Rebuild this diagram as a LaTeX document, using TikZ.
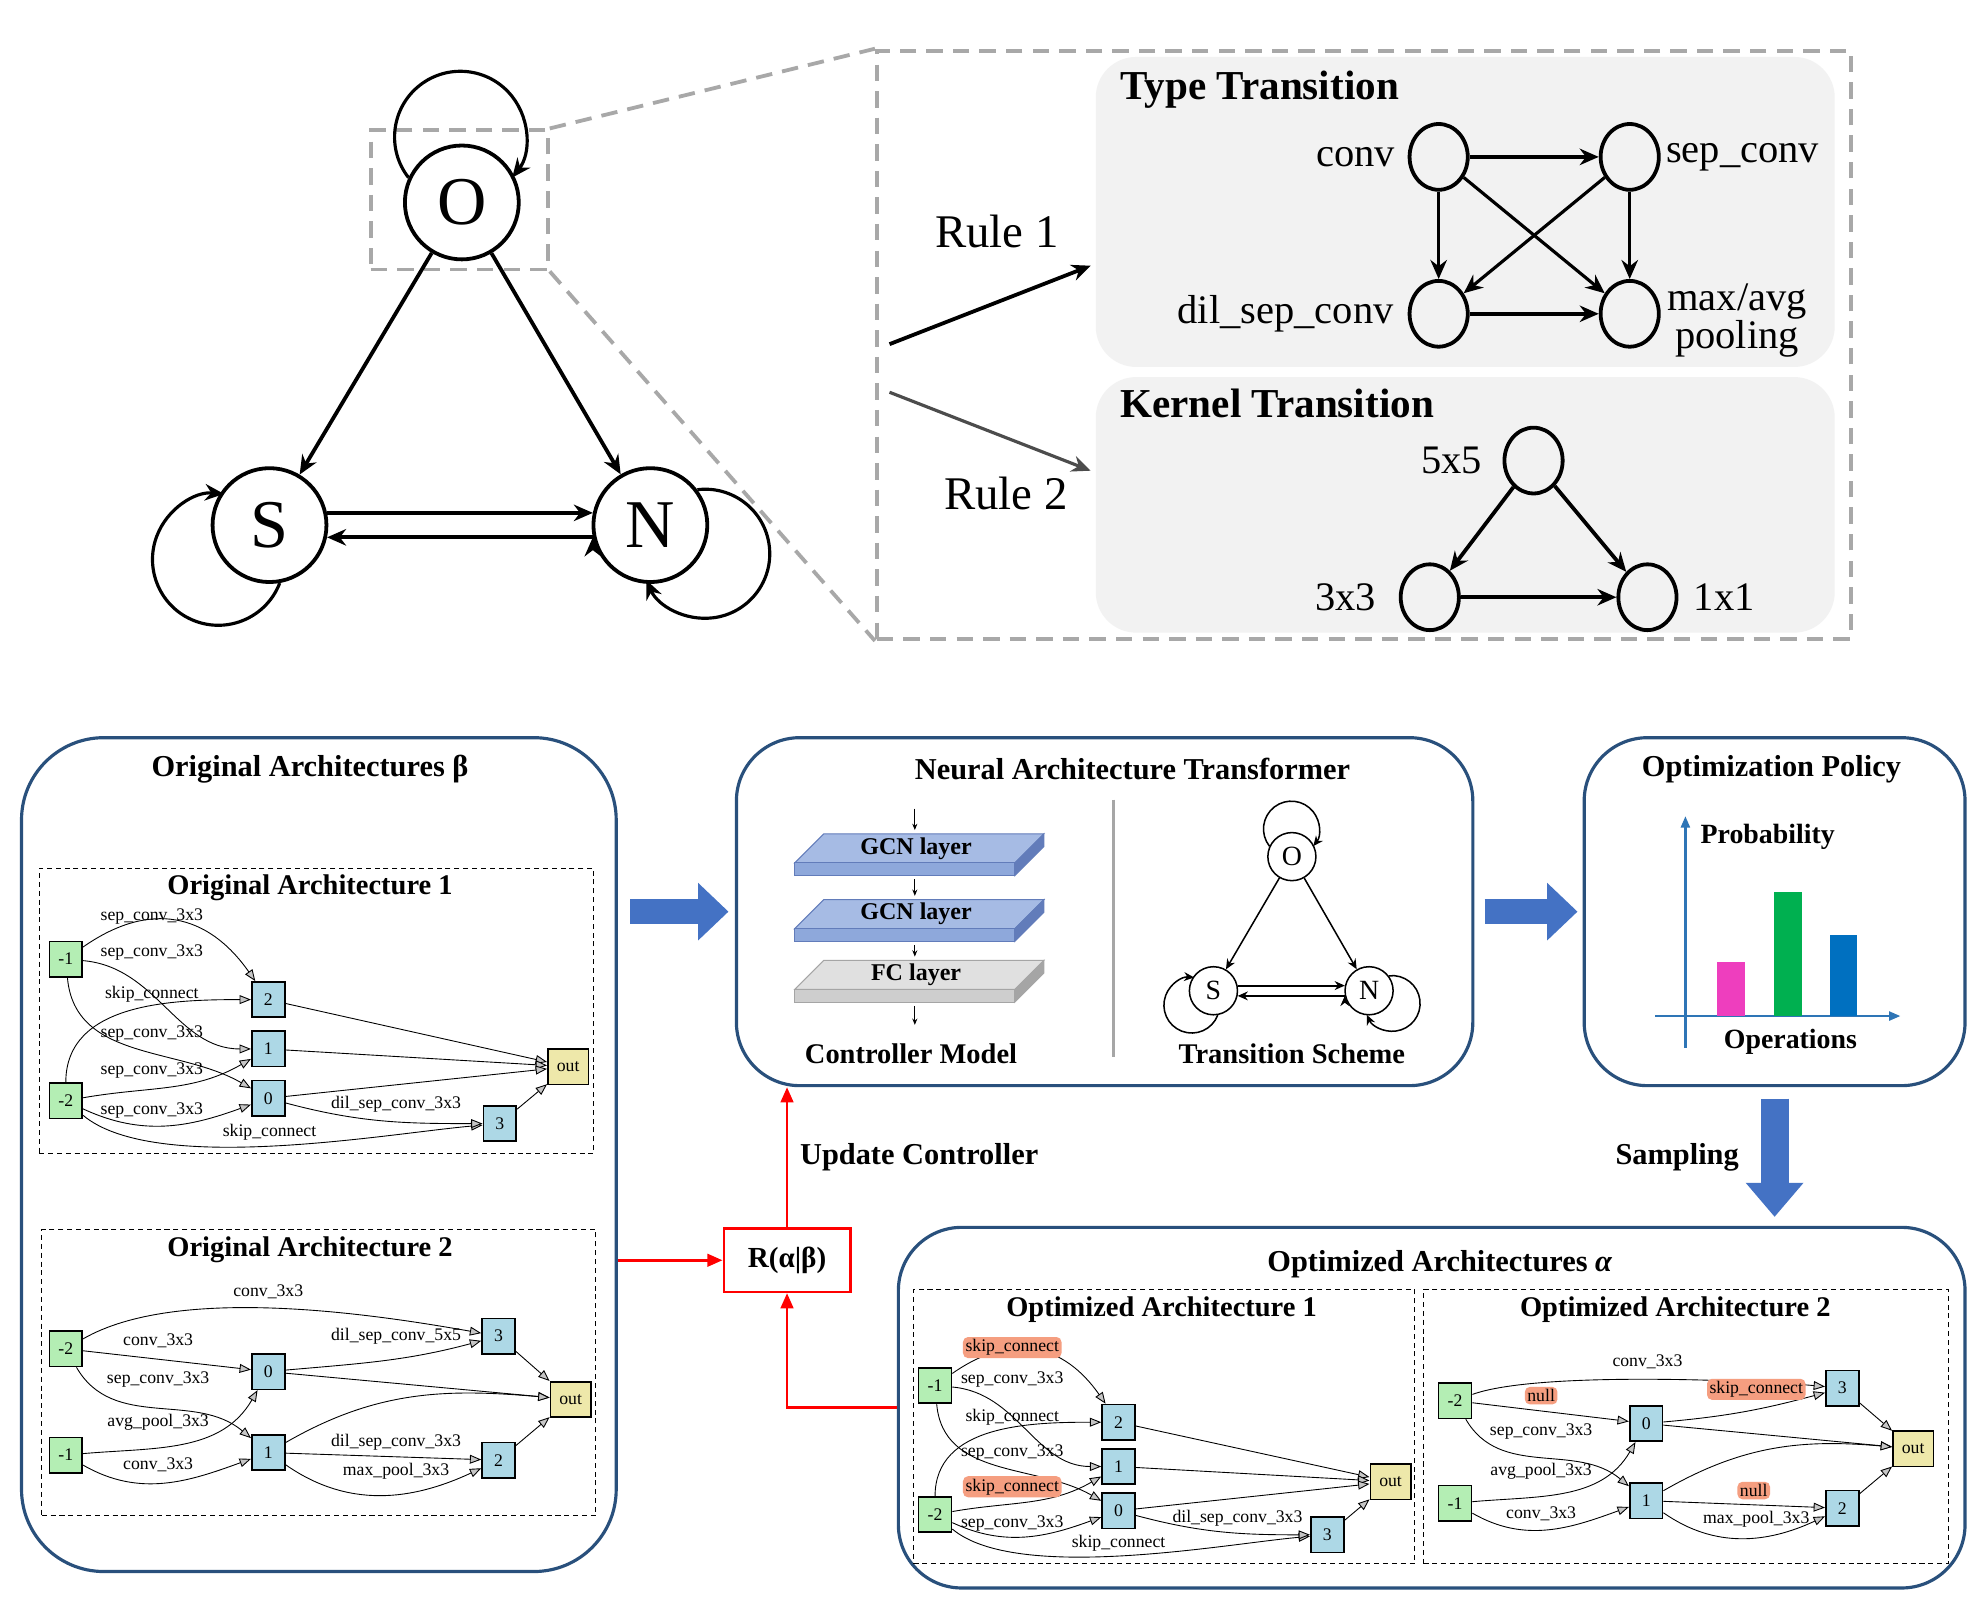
\documentclass[tikz,border=0pt]{standalone}
\usepackage{fontspec}
\setmainfont{Liberation Serif}
\usetikzlibrary{automata, positioning, arrows.meta, shapes.geometric, calc}

\definecolor{boxblue}{RGB}{41,80,124}
\definecolor{fatblue}{RGB}{68,114,196}
\definecolor{zoomgray}{RGB}{168,168,168}
\definecolor{panelgray}{RGB}{242,242,242}
\definecolor{inputgreen}{RGB}{180,238,180}
\definecolor{cellblue}{RGB}{173,216,230}
\definecolor{outyellow}{RGB}{238,232,170}
\definecolor{hlsalmon}{RGB}{245,158,128}
\definecolor{axisblue}{RGB}{46,117,182}
\definecolor{barpink}{RGB}{238,62,190}
\definecolor{bargreen}{RGB}{0,176,80}
\definecolor{barblue}{RGB}{0,112,192}
\definecolor{gcntop}{RGB}{166,187,228}
\definecolor{gcnfront}{RGB}{142,168,219}
\definecolor{gcnside}{RGB}{98,124,186}
\definecolor{fctop}{RGB}{224,224,224}
\definecolor{fcfront}{RGB}{206,206,206}
\definecolor{fcside}{RGB}{165,165,165}

\tikzset{%
  x=1pt, y=-1pt, % one unit is one pixel of the sketch, y grows downwards
  every state/.style={line width=3pt, minimum size=90pt, inner sep=0pt, font=\fontsize{54}{54}\selectfont},
  small state/.style={circle, draw, line width=1.2pt, minimum size=38pt, inner sep=0pt, font=\fontsize{22}{22}\selectfont},
  fat/.style={line width=3pt, -{Stealth[length=15pt,width=13pt]}},
  slim/.style={line width=1.2pt, -{Stealth[length=8pt,width=7pt]}},
  zoombox/.style={draw=zoomgray, line width=3pt, dash pattern=on 13pt off 8pt},
  panel/.style={fill=panelgray, rounded corners=32pt},
  ptitle/.style={anchor=west, font=\fontsize{32.5}{34}\selectfont\bfseries},
  op/.style={ellipse, draw, line width=3pt, minimum width=46pt, minimum height=52pt, inner sep=0pt},
  oplabel/.style={font=\fontsize{32}{28}\selectfont, inner sep=2pt},
  rulelbl/.style={font=\fontsize{37}{37}\selectfont},
  bigbox/.style={draw=boxblue, line width=2.5pt, rounded corners=50pt},
  boxtitle/.style={font=\fontsize{24}{26}\selectfont\bfseries},
  celltitle/.style={font=\fontsize{22.5}{24}\selectfont\bfseries},
  cellframe/.style={draw, line width=0.8pt, dash pattern=on 4pt off 3pt},
  inbox/.style={draw, line width=1.3pt, fill=inputgreen, minimum width=26pt, minimum height=28pt, inner sep=0pt, font=\fontsize{14}{14}\selectfont},
  midbox/.style={inbox, fill=cellblue},
  outbox/.style={inbox, fill=outyellow, minimum width=32pt},
  cedge/.style={line width=0.7pt, -{Triangle[length=9pt,width=7pt,fill=gray!45]}},
  elbl/.style={font=\fontsize{14}{15}\selectfont, inner sep=1pt},
  hl/.style={elbl, fill=hlsalmon, rounded corners=4pt, inner sep=2pt},
  blockarrow/.style={draw=fatblue, line width=20pt, -{Triangle[length=24pt,width=44pt]}},
  redarrow/.style={red, line width=2pt, -{Triangle[length=12pt,width=10pt]}},
  rbox/.style={draw=red, line width=2pt, minimum width=100pt, minimum height=50pt, font=\fontsize{23}{25}\selectfont\bfseries},
  layertext/.style={font=\fontsize{19}{19}\selectfont\bfseries},
  smallarrow/.style={line width=0.8pt, -{Stealth[length=5pt,width=4pt]}},
  axisline/.style={draw=axisblue, line width=2pt, -{Triangle[length=9pt,width=7pt]}},
  axlabel/.style={font=\fontsize{22}{24}\selectfont\bfseries}
}

\begin{document}
\begin{tikzpicture}
  \path[fill=white, use as bounding box] (0,0) rectangle (1568,1263);

  % ---- transition graph and zoom ----
  \node[zoombox, minimum width=140pt, minimum height=110pt] (zO) at (363,158) {};
  \node[zoombox, minimum width=770pt, minimum height=465pt] (zoom) at (1078,272.5) {};
  \draw[zoombox] (zO.north east) -- (zoom.north west) (zO.south east) -- (zoom.south west);

  \node[state] (O) at (365,160) {O};
  \node[state] (S) at (213,415) {S};
  \node[state] (N) at (514,415) {N};
  \draw[fat] (O) edge (S) (O) edge (N) (S.12) edge (N.168) (N.192) edge (S.-12);
  \draw[fat, line width=2.5pt] (O.155.7) arc[start angle=218, end angle=-38, radius=52pt];
  \draw[fat, line width=2.5pt] (S.-80) arc[start angle=-21, end angle=-275, radius=52pt];
  \draw[fat, line width=2.5pt] (N.37) arc[start angle=97, end angle=-156, radius=51pt];

  % ---- rules ----
  \node[panel, minimum width=584pt, minimum height=245pt] (type) at (1158,167.5) {};
  \node[panel, minimum width=584pt, minimum height=202pt] (kernel) at (1158,399) {};
  \node[ptitle] (typeT) at (882,71) {Type Transition};
  \node[ptitle] (kernelT) at (882,319) {Kernel Transition};

  \coordinate (r1) at (703,272);
  \coordinate (r1e) at (862,210);
  \coordinate (r2) at (703,310);
  \coordinate (r2e) at (862,372);
  \draw[fat] (r1) -- (r1e);
  \draw[fat, line width=2.5pt, black!70] (r2) -- (r2e);
  \node[rulelbl] (rule1) at (788,183) {Rule 1};
  \node[rulelbl] (rule2) at (795,390) {Rule 2};

  \node[op] (conv) at (1137,124) {};
  \node[op] (sep) at (1288,124) {};
  \node[op] (dil) at (1137,248) {};
  \node[op] (pool) at (1288,248) {};
  \node[oplabel, left=8pt of conv] (convL) {conv};
  \node[oplabel, right=2pt of sep] (sepL) {sep\_conv};
  \node[oplabel, left=9pt of dil] (dilL) {dil\_sep\_conv};
  \node[oplabel, right=3pt of pool, yshift=-5pt, align=center] (poolL) {max/avg\\pooling};
  \draw[fat, line width=3.5pt] (conv) edge (sep) (dil) edge (pool);
  \draw[fat, line width=2.5pt] (conv) edge (dil) (conv) edge (pool) (sep) edge (dil) (sep) edge (pool);

  \node[op] (k5) at (1212,364) {};
  \node[op] (k3) at (1130,472) {};
  \node[op] (k1) at (1302,472) {};
  \node[oplabel, left=14pt of k5] (k5L) {5x5};
  \node[oplabel, left=16pt of k3] (k3L) {3x3};
  \node[oplabel, right=10pt of k1] (k1L) {1x1};
  \draw[fat] (k5) edge (k3) (k5) edge (k1) (k3) edge (k1);

  % ---- pipeline boxes ----
  \node[bigbox, minimum width=470pt, minimum height=659pt, rounded corners=65pt] (orig) at (252,912.5) {};
  \node[bigbox, minimum width=582pt, minimum height=275pt] (nat) at (873,720.5) {};
  \node[bigbox, minimum width=301pt, minimum height=275pt] (pol) at (1402.5,720.5) {};
  \node[bigbox, minimum width=843pt, minimum height=285pt] (opt) at (1131.5,1112.5) {};
  \node[boxtitle] (origT) at (245,608) {Original Architectures β};
  \node[boxtitle] (natT) at (895,608) {Neural Architecture Transformer};
  \node[boxtitle] (polT) at (1400,608) {Optimization Policy};
  \node[boxtitle] (optT) at (1138,999) {Optimized Architectures \textit{α}};

  \draw[blockarrow] ($(orig.east |- nat.west)+(10,0)$) -- ($(nat.west)+(-5,0)$);
  \draw[blockarrow] ($(nat.east)+(8,0)$) -- ($(pol.west)+(-4,0)$);
  \draw[blockarrow, line width=22pt, -{Triangle[length=27pt,width=44pt]}] ($(pol.south)+(0,9)$) -- ($(pol.south |- opt.north)+(0,-7)$)
    node[midway, left=14pt, boxtitle] (samp) {Sampling};

  \node[rbox] (R) at (622,996) {R(α|β)};
  \draw[redarrow] (orig.east |- R) -- (R);
  \draw[redarrow] (R) -- (R |- nat.south) node[midway, right=6pt, boxtitle, text=black] (upd) {Update Controller};
  \draw[redarrow] (opt.west) -| (R);

  % ---- controller model ----
  \coordinate (ctrlin) at (723,639);
  \coordinate (ctrlout) at (723,810);
  \foreach \y/\txt/\tc/\fc/\sc [count=\i] in {659/GCN layer/gcntop/gcnfront/gcnside,
                                               711/GCN layer/gcntop/gcnfront/gcnside,
                                               759/FC layer/fctop/fcfront/fcside}{
    \filldraw[fill=\tc, draw=\sc, line width=0.8pt] (651,\y) -- (825,\y) -- (802,\y+23) -- (628,\y+23) -- cycle;
    \filldraw[fill=\fc, draw=\sc, line width=0.8pt] (628,\y+23) rectangle (802,\y+33);
    \filldraw[fill=\sc, draw=\sc, line width=0.8pt] (802,\y+23) -- (825,\y) -- (825,\y+10) -- (802,\y+33) -- cycle;
    \node[layertext] (layer\i) at (724,\y+11.5) {\txt};
    \coordinate (lt\i) at (723,\y-3);
    \coordinate (lb\i) at (723,\y+36);
  }
  \draw[smallarrow] (ctrlin) -- (lt1);
  \draw[smallarrow] (lb1) -- (lt2);
  \draw[smallarrow] (lb2) -- (lt3);
  \draw[smallarrow] (lb3) -- (ctrlout);
  \node[celltitle] (ctrlT) at (720,833) {Controller Model};

  \coordinate (divtop) at (880,632);
  \coordinate (divbot) at (880,835);
  \draw[gray!70, line width=2pt] (divtop) -- (divbot);

  % ---- transition scheme ----
  \node[small state] (so) at (1021,677) {O};
  \node[small state] (ss) at (959,783) {S};
  \node[small state] (sn) at (1082,783) {N};
  \draw[slim] (so) edge (ss) (so) edge (sn);
  \draw[slim, line width=1.6pt] (ss.12) edge (sn.168) (sn.192) edge (ss.-12);
  \draw[slim] (so.155.7) arc[start angle=218, end angle=-38, radius=22pt];
  \draw[slim] (ss.-80) arc[start angle=-21, end angle=-275, radius=22pt];
  \draw[slim] (sn.37) arc[start angle=97, end angle=-156, radius=22pt];
  \node[celltitle] (schemeT) at (1021,833) {Transition Scheme};

  % ---- optimization policy ----
  \coordinate (yb) at (1332,828);
  \coordinate (yt) at (1332,645);
  \coordinate (xl) at (1308,803);
  \coordinate (xr) at (1502,803);
  \draw[axisline] (yb) -- (yt);
  \draw[axisline] (xl) -- (xr);
  \fill[barpink] (1357,760) rectangle (1379,803);
  \fill[bargreen] (1402,705) rectangle (1424,803);
  \fill[barblue] (1446,739) rectangle (1468,803);
  \node[axlabel] (prob) at (1397,661) {Probability};
  \node[axlabel] (opsL) at (1415,823) {Operations};

  % ---- original architecture 1 ----
  \node[cellframe, minimum width=438pt, minimum height=226pt] (o1) at (250,799) {};
  \node[celltitle] (o1T) at (245,702) {Original Architecture 1};
  \node[inbox] (o1m1) at (52,758) {-1};
  \node[inbox] (o1m2) at (52,870) {-2};
  \node[midbox] (o1n2) at (212,790) {2};
  \node[midbox] (o1n1) at (212,829) {1};
  \node[midbox] (o1n0) at (212,868) {0};
  \node[midbox] (o1n3) at (395,888) {3};
  \node[outbox] (o1out) at (449,843) {out};
  \draw[cedge] (o1m1) edge[out=35, in=125, looseness=1.2] (o1n2)
               (o1m1) edge[out=-5, in=180] (o1n1)
               (o1m1) edge[out=-85, in=150] (o1n0)
               (o1m2) edge[out=90, in=180] (o1n2)
               (o1m2) edge[out=10, in=210] (o1n1)
               (o1m2) edge[out=-25, in=200] (o1n0)
               (o1m2) edge[out=-40, in=185, looseness=0.6] (o1n3)
               (o1n0) edge[out=-15, in=180] (o1n3)
               (o1n2) edge (o1out) (o1n1) edge (o1out) (o1n0) edge (o1out) (o1n3) edge (o1out);
  \node[elbl] (o1e1) at (120,724) {sep\_conv\_3x3};
  \node[elbl] (o1e2) at (120,753) {sep\_conv\_3x3};
  \node[elbl] (o1e3) at (120,786) {skip\_connect};
  \node[elbl] (o1e4) at (120,817) {sep\_conv\_3x3};
  \node[elbl] (o1e5) at (120,846) {sep\_conv\_3x3};
  \node[elbl] (o1e6) at (120,878) {sep\_conv\_3x3};
  \node[elbl] (o1e7) at (213,895) {skip\_connect};
  \node[elbl] (o1e8) at (313,873) {dil\_sep\_conv\_3x3};

  % ---- original architecture 2 ----
  \node[cellframe, minimum width=438pt, minimum height=226pt] (o2) at (252,1085) {};
  \node[celltitle] (o2T) at (245,988) {Original Architecture 2};
  \node[inbox] (o2m2) at (52,1066) {-2};
  \node[inbox] (o2m1) at (52,1150) {-1};
  \node[midbox] (o2n0) at (212,1084) {0};
  \node[midbox] (o2n1) at (212,1148) {1};
  \node[midbox] (o2n3) at (394,1056) {3};
  \node[midbox] (o2n2) at (394,1154) {2};
  \node[outbox] (o2out) at (451,1106) {out};
  \draw[cedge] (o2m2) edge[out=30, in=170, looseness=0.7] (o2n3)
               (o2m2) edge (o2n0)
               (o2m2) edge[out=-60, in=140] (o2n1)
               (o2m1) edge[out=5, in=-120] (o2n0)
               (o2m1) edge[out=-30, in=200] (o2n1)
               (o2n0) edge[out=5, in=195] (o2n3)
               (o2n0) edge (o2out)
               (o2n1) edge[out=30, in=175] (o2out)
               (o2n1) edge (o2n2)
               (o2n1) edge[out=-35, in=205] (o2n2)
               (o2n3) edge (o2out) (o2n2) edge (o2out);
  \node[elbl] (o2e1) at (212,1021) {conv\_3x3};
  \node[elbl] (o2e2) at (125,1060) {conv\_3x3};
  \node[elbl] (o2e3) at (125,1090) {sep\_conv\_3x3};
  \node[elbl] (o2e4) at (125,1124) {avg\_pool\_3x3};
  \node[elbl] (o2e5) at (125,1158) {conv\_3x3};
  \node[elbl] (o2e6) at (313,1056) {dil\_sep\_conv\_5x5};
  \node[elbl] (o2e7) at (313,1140) {dil\_sep\_conv\_3x3};
  \node[elbl] (o2e8) at (313,1163) {max\_pool\_3x3};

  % ---- optimized architecture 1 ----
  \node[cellframe, minimum width=396pt, minimum height=217pt] (p1) at (920,1127.5) {};
  \node[celltitle] (p1T) at (918,1035) {Optimized Architecture 1};
  \node[inbox] (p1m1) at (739,1095) {-1};
  \node[inbox] (p1m2) at (739,1197) {-2};
  \node[midbox] (p1n2) at (884,1124) {2};
  \node[midbox] (p1n1) at (884,1159) {1};
  \node[midbox] (p1n0) at (884,1194) {0};
  \node[midbox] (p1n3) at (1049,1213) {3};
  \node[outbox] (p1out) at (1099,1171) {out};
  \draw[cedge] (p1m1) edge[out=35, in=125, looseness=1.2] (p1n2)
               (p1m1) edge[out=-5, in=180] (p1n1)
               (p1m1) edge[out=-85, in=150] (p1n0)
               (p1m2) edge[out=90, in=180] (p1n2)
               (p1m2) edge[out=10, in=210] (p1n1)
               (p1m2) edge[out=-25, in=200] (p1n0)
               (p1m2) edge[out=-40, in=185, looseness=0.6] (p1n3)
               (p1n0) edge[out=-15, in=180] (p1n3)
               (p1n2) edge (p1out) (p1n1) edge (p1out) (p1n0) edge (p1out) (p1n3) edge (p1out);
  \node[hl] (p1e1) at (800,1065) {skip\_connect};
  \node[elbl] (p1e2) at (800,1090) {sep\_conv\_3x3};
  \node[elbl] (p1e3) at (800,1120) {skip\_connect};
  \node[elbl] (p1e4) at (800,1148) {sep\_conv\_3x3};
  \node[hl] (p1e5) at (800,1175) {skip\_connect};
  \node[elbl] (p1e6) at (800,1204) {sep\_conv\_3x3};
  \node[elbl] (p1e7) at (884,1220) {skip\_connect};
  \node[elbl] (p1e8) at (978,1200) {dil\_sep\_conv\_3x3};

  % ---- optimized architecture 2 ----
  \node[cellframe, minimum width=415pt, minimum height=217pt] (p2) at (1332.5,1127.5) {};
  \node[celltitle] (p2T) at (1324,1035) {Optimized Architecture 2};
  \node[inbox] (p2m2) at (1150,1107) {-2};
  \node[inbox] (p2m1) at (1150,1188) {-1};
  \node[midbox] (p2n0) at (1301,1125) {0};
  \node[midbox] (p2n1) at (1301,1186) {1};
  \node[midbox] (p2n3) at (1456,1097) {3};
  \node[midbox] (p2n2) at (1456,1192) {2};
  \node[outbox] (p2out) at (1512,1145) {out};
  \draw[cedge] (p2m2) edge[out=20, in=175, looseness=0.5] (p2n3)
               (p2m2) edge (p2n0)
               (p2m2) edge[out=-60, in=140] (p2n1)
               (p2m1) edge[out=5, in=-120] (p2n0)
               (p2m1) edge[out=-30, in=200] (p2n1)
               (p2n0) edge[out=5, in=195] (p2n3)
               (p2n0) edge (p2out)
               (p2n1) edge[out=30, in=175] (p2out)
               (p2n1) edge (p2n2)
               (p2n1) edge[out=-35, in=205] (p2n2)
               (p2n3) edge (p2out) (p2n2) edge (p2out);
  \node[elbl] (p2e1) at (1302,1076) {conv\_3x3};
  \node[hl] (p2e2) at (1218,1103) {null};
  \node[elbl] (p2e3) at (1218,1131) {sep\_conv\_3x3};
  \node[elbl] (p2e4) at (1218,1163) {avg\_pool\_3x3};
  \node[elbl] (p2e5) at (1218,1196) {conv\_3x3};
  \node[hl] (p2e6) at (1388,1098) {skip\_connect};
  \node[hl] (p2e7) at (1386,1178) {null};
  \node[elbl] (p2e8) at (1388,1201) {max\_pool\_3x3};
\end{tikzpicture}
\end{document}
